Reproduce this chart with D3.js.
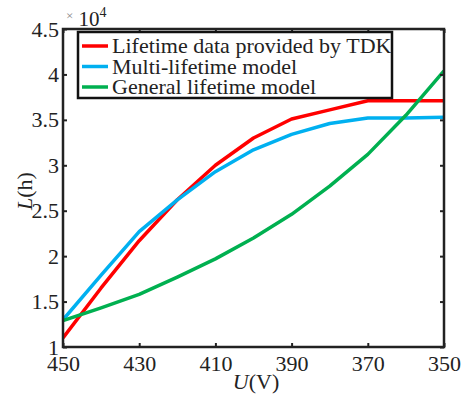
<!DOCTYPE html>
<html>
<head>
<meta charset="utf-8">
<script src="https://cdn.jsdelivr.net/npm/d3@7"></script>
<style>
  body { margin: 0; background: #fff; }
  svg text { font-family: "Liberation Serif", "Times New Roman", serif; fill: #222; }
</style>
</head>
<body>
<div id="chart"></div>
<script>
// voltage points (V), lifetime in units of 1e4 h
var voltage = [450, 440, 430, 420, 410, 400, 390, 380, 370, 360, 350];
var tdkData = [1.1, 1.65, 2.17, 2.62, 3.0, 3.3, 3.51, 3.61, 3.71, 3.71, 3.71];
var multiModel = [1.3, 1.79, 2.27, 2.62, 2.93, 3.17, 3.34, 3.46, 3.52, 3.52, 3.53];
var generalModel = [1.29, 1.43, 1.58, 1.77, 1.97, 2.2, 2.46, 2.77, 3.12, 3.55, 4.04];
var seriesNames = ["Lifetime data provided by TDK", "Multi-lifetime model", "General lifetime model"];
var seriesColors = ["#ff0000", "#00b0f0", "#00b050"];
var xTicks = [450, 430, 410, 390, 370, 350];
var yTicks = [1, 1.5, 2, 2.5, 3, 3.5, 4, 4.5];

var margin = {top: 29, right: 20, bottom: 47, left: 63},
    width = 464 - margin.left - margin.right,
    height = 394 - margin.top - margin.bottom;

var svg = d3.select("#chart").append("svg")
    .attr("width", 464)
    .attr("height", 394);

var g = svg.append("g")
    .attr("transform", "translate(" + margin.left + "," + margin.top + ")");

var x = d3.scaleLinear().domain([450, 350]).range([0, width]);
var y = d3.scaleLinear().domain([1, 4.5]).range([height, 0]);

var series = [tdkData, multiModel, generalModel];

var line = d3.line()
    .x(function (d) { return x(d[0]); })
    .y(function (d) { return y(d[1]); });

// clip so lines stay in the box
g.append("clipPath").attr("id", "clip")
    .append("rect").attr("width", width).attr("height", height);

series.forEach(function (s, i) {
    g.append("path")
        .datum(d3.zip(voltage, s))
        .attr("clip-path", "url(#clip)")
        .attr("fill", "none")
        .attr("stroke", seriesColors[i])
        .attr("stroke-width", 3.5)
        .attr("stroke-linejoin", "round")
        .attr("d", line);
});

// axes, ticks pointing inward
function styleAxis(sel) {
    sel.select(".domain").remove();
    sel.selectAll(".tick line").attr("stroke", "#222").attr("stroke-width", 2);
    sel.selectAll(".tick text").style("font-size", "22px").attr("fill", "#222");
}

var axB = g.append("g").attr("transform", "translate(0," + height + ")")
    .call(d3.axisBottom(x).tickValues(xTicks).tickSize(-4).tickPadding(8).tickFormat(d3.format("d")));
styleAxis(axB);
axB.selectAll(".tick text").attr("dy", "0.71em");

var axT = g.append("g")
    .call(d3.axisTop(x).tickValues(xTicks).tickSize(-4).tickFormat(""));
styleAxis(axT);

var axL = g.append("g")
    .call(d3.axisLeft(y).tickValues(yTicks).tickSize(-4).tickPadding(4).tickFormat(function (d) { return d3.format("")(d); }));
styleAxis(axL);

var axR = g.append("g").attr("transform", "translate(" + width + ",0)")
    .call(d3.axisRight(y).tickValues(yTicks).tickSize(-4).tickFormat(""));
styleAxis(axR);

// box
g.append("rect")
    .attr("width", width).attr("height", height)
    .attr("fill", "none").attr("stroke", "#222").attr("stroke-width", 2.5);

// exponent
var ex = svg.append("text").attr("x", 66).attr("y", 26).style("font-size", "21px");
ex.append("tspan").text("×").style("font-size", "13px").attr("fill", "#888").attr("dy", "-6");
ex.append("tspan").text(" 10").attr("dy", "6");
ex.append("tspan").text("4").style("font-size", "14px").attr("dy", "-9");

// axis titles
var yl = svg.append("text")
    .attr("transform", "translate(32," + 191 + ") rotate(-90)")
    .attr("text-anchor", "middle")
    .style("font-size", "22px");
yl.append("tspan").text("L").style("font-style", "italic");
yl.append("tspan").text("(h)");

var xl = svg.append("text")
    .attr("x", 256).attr("y", 389)
    .attr("text-anchor", "middle")
    .style("font-size", "22px");
xl.append("tspan").text("U").style("font-style", "italic");
xl.append("tspan").text("(V)");

// legend
var lg = svg.append("g").attr("transform", "translate(78,32)");
lg.append("rect")
    .attr("width", 314).attr("height", 66)
    .attr("fill", "#fff").attr("stroke", "#111").attr("stroke-width", 2.5);
seriesNames.forEach(function (name, i) {
    var yy = 14 + i * 20.5;
    lg.append("line")
        .attr("x1", 4).attr("x2", 30).attr("y1", yy).attr("y2", yy)
        .attr("stroke", seriesColors[i]).attr("stroke-width", 3.5);
    lg.append("text")
        .attr("x", 34).attr("y", yy + 7)
        .style("font-size", "22px")
        .text(name);
});
</script>
</body>
</html>
